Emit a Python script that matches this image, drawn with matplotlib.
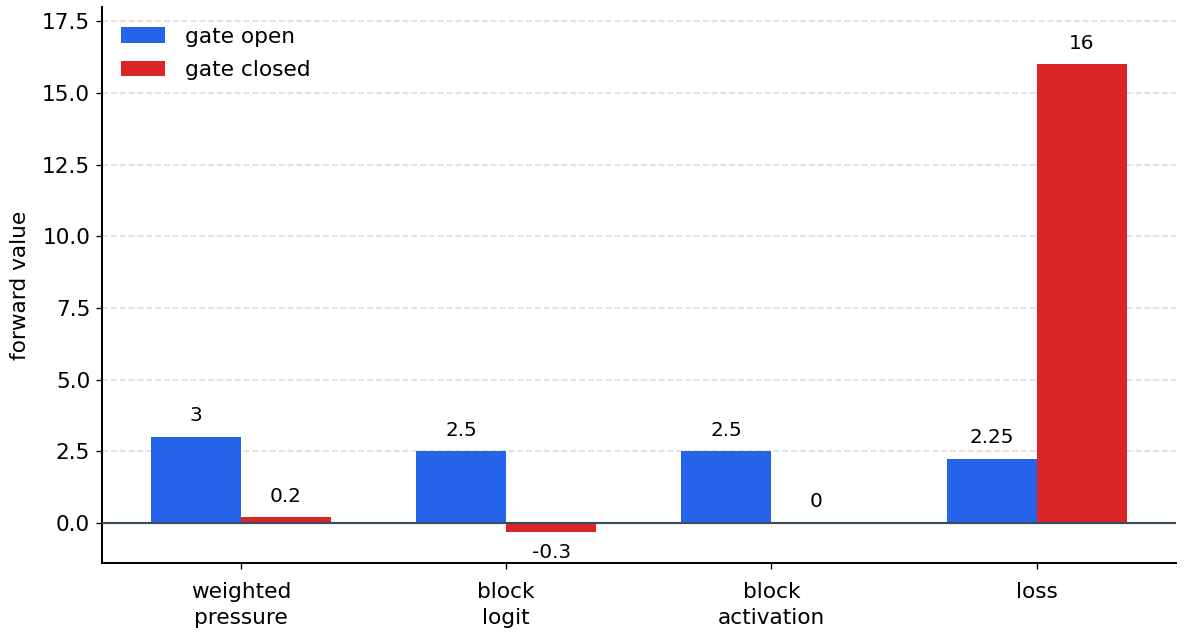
import numpy as np
import matplotlib
matplotlib.use("Agg")
import matplotlib.pyplot as plt

categories = ["weighted\npressure", "block\nlogit", "block\nactivation", "loss"]
gate_open = [3, 2.5, 2.5, 2.25]
gate_closed = [0.2, -0.3, 0, 16]
open_labels = ["3", "2.5", "2.5", "2.25"]
closed_labels = ["0.2", "-0.3", "0", "16"]

fig, ax = plt.subplots(figsize=(11.84/1.2, 6.4/1.2), dpi=120)
x = np.arange(len(categories))
w = 0.34

b1 = ax.bar(x - w/2, gate_open, w, color="#2563eb", label="gate open")
b2 = ax.bar(x + w/2, gate_closed, w, color="#dc2626", label="gate closed")

def label_bars(bars, vals, texts):
    for b, v, t in zip(bars, vals, texts):
        xc = b.get_x() + b.get_width()/2
        if v < 0:
            ax.annotate(t, (xc, v), xytext=(0, -7), textcoords="offset points",
                        ha="center", va="top", fontsize=12)
        else:
            ax.annotate(t, (xc, v), xytext=(0, 7), textcoords="offset points",
                        ha="center", va="bottom", fontsize=12)

label_bars(b1, gate_open, open_labels)
label_bars(b2, gate_closed, closed_labels)

ax.axhline(0, color="#3b4a5c", linewidth=1.3, zorder=3)
ax.set_ylim(-1.4, 18)
ax.set_xticks(x)
ax.set_xticklabels(categories, fontsize=13, linespacing=1.4)
ax.tick_params(axis="x", pad=7.5)
ax.tick_params(axis="y", labelsize=13)
ax.set_ylabel("forward value", fontsize=13, labelpad=7.5)
ax.yaxis.grid(True, linestyle="--", color="#dddddd", linewidth=1)
ax.set_axisbelow(True)
for s in ["top", "right"]:
    ax.spines[s].set_visible(False)
ax.spines["left"].set_linewidth(1.2)
ax.spines["bottom"].set_linewidth(1.2)
ax.legend(loc="upper left", frameon=False, fontsize=13,
          labelspacing=0.64, handletextpad=0.94)

plt.subplots_adjust(left=0.086, right=0.993, top=0.989, bottom=0.12)
plt.savefig("out.png")
